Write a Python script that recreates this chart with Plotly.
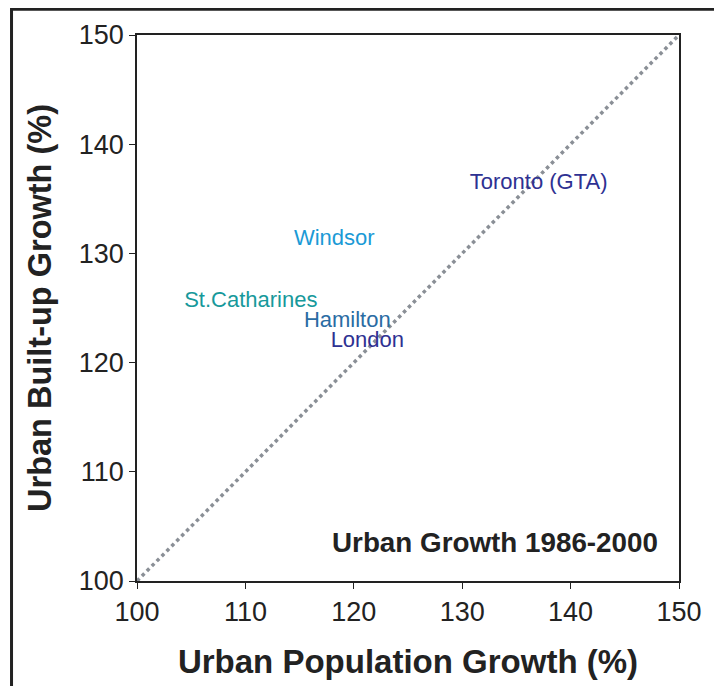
import plotly.graph_objects as go

cities = ["Toronto (GTA)", "Windsor", "St.Catharines", "Hamilton", "London"]
pop_growth = [137.05, 118.2, 110.5, 119.4, 121.25]
builtup_growth = [136.4, 131.3, 125.6, 123.8, 121.9]
colors = ["#2e3192", "#1b9ad6", "#17999b", "#2a6ca3", "#2e3192"]

ref_line = [100, 150]
tick_vals = [100, 110, 120, 130, 140, 150]
title_text = "Urban Growth 1986-2000"

FONT = "Liberation Sans, Arial, sans-serif"

fig = go.Figure()
fig.add_trace(go.Scatter(
    x=ref_line, y=ref_line, mode="lines",
    line=dict(color="#8a8f96", width=3.5, dash="dot"),
    hoverinfo="skip", showlegend=False))
fig.add_trace(go.Scatter(
    x=pop_growth, y=builtup_growth, mode="text", text=cities,
    textposition="middle center",
    textfont=dict(family=FONT, size=22, color=colors),
    showlegend=False))

axis_common = dict(
    range=[100, 150], tickvals=tick_vals, ticks="outside", ticklen=6,
    tickcolor="#222", tickwidth=1.2, showline=True, linecolor="#222",
    linewidth=1.5, mirror=True, showgrid=False, zeroline=False,
    tickfont=dict(family=FONT, size=27, color="#222"))

fig.update_layout(
    width=706, height=678,
    margin=dict(l=129, r=24, t=27, b=101),
    paper_bgcolor="white", plot_bgcolor="white",
    xaxis=dict(**axis_common,
               title=dict(text="<b>Urban Population Growth (%)</b>",
                          font=dict(family=FONT, size=33, color="#222"),
                          standoff=24)),
    yaxis=dict(**axis_common,
               title=dict(text="<b>Urban Built-up Growth (%)</b>",
                          font=dict(family=FONT, size=32.5, color="#222"),
                          standoff=17)),
    annotations=[dict(text="<b>" + title_text + "</b>", x=0.965, y=0.07,
                      xref="paper", yref="paper", xanchor="right",
                      yanchor="middle", showarrow=False,
                      font=dict(family=FONT, size=27.8, color="#222"))],
    shapes=[dict(type="rect", xref="paper", yref="paper",
                 x0=-0.2315, x1=1.2, y0=-0.4, y1=1.047,
                 line=dict(color="#222", width=3), fillcolor="rgba(0,0,0,0)",
                 layer="above")],
)
fig.write_html("out.html")
